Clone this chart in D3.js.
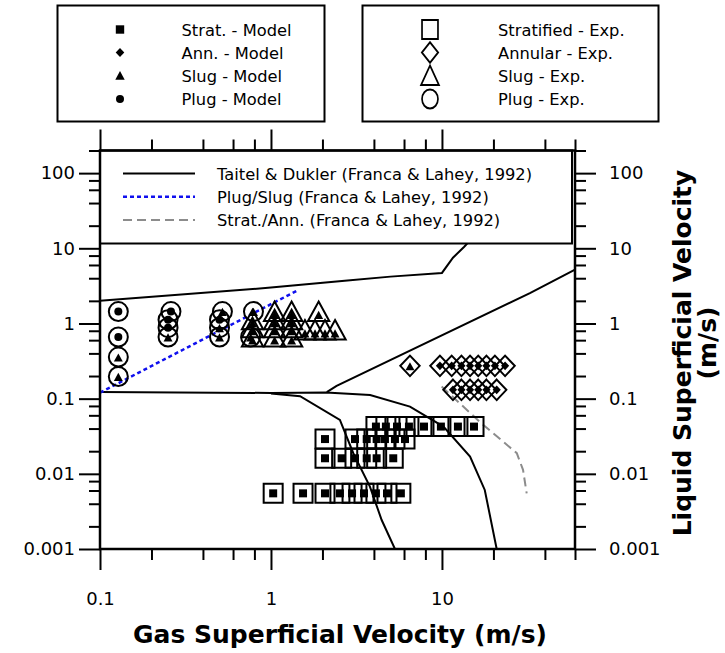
<!DOCTYPE html>
<html>
<head>
<meta charset="utf-8">
<script src="https://cdn.jsdelivr.net/npm/d3@7"></script>
<style>
  html, body { margin: 0; padding: 0; background: #fff; }
  svg { display: block; font-family: "DejaVu Sans", sans-serif; }
</style>
</head>
<body>
<svg id="chart" width="725" height="653"></svg>
<script>
// ---- Flow-pattern map data -------------------------------------------------
// Experimental points: [gas superficial velocity, liquid superficial velocity, model-predicted regime]
const plugExp = [
  [0.128, 1.44, "Plug"], [0.128, 0.66, "Plug"], [0.128, 0.357, "Slug"], [0.128, 0.197, "Slug"],
  [0.26, 1.44, "Plug"], [0.25, 1.12, "Plug"], [0.25, 0.88, "Plug"], [0.25, 0.66, "Slug"],
  [0.52, 1.44, "Slug"], [0.5, 1.12, "Plug"], [0.5, 0.88, "Slug"], [0.5, 0.66, "Slug"],
  [0.79, 1.44, "Slug"], [0.76, 0.66, "Slug"]
];
const slugExp = [
  [0.78, 1.12, "Slug"], [0.78, 0.88, "Slug"], [0.78, 0.66, "Slug"],
  [1.05, 1.44, "Slug"], [1.05, 1.12, "Slug"], [1.05, 0.88, "Slug"], [1.05, 0.66, "Slug"],
  [1.32, 1.44, "Slug"], [1.32, 1.12, "Slug"], [1.32, 0.88, "Slug"], [1.32, 0.66, "Slug"],
  [1.9, 1.44, "Slug"],
  [1.58, 0.82, "Slug"], [1.81, 0.82, "Slug"], [2.07, 0.82, "Slug"], [2.37, 0.82, "Slug"]
];
const annExp = [
  [6.5, 0.273, "Slug"],
  [9.73, 0.273, "Ann"], [11.4, 0.273, "Ann"], [13.0, 0.273, "Ann"], [14.6, 0.273, "Ann"],
  [16.3, 0.273, "Ann"], [18.2, 0.273, "Ann"], [20.4, 0.273, "Ann"], [23.4, 0.273, "Ann"],
  [11.6, 0.131, "Ann"], [13.0, 0.131, "Ann"], [14.6, 0.131, "Ann"],
  [16.3, 0.131, "Ann"], [18.2, 0.131, "Ann"], [20.9, 0.131, "Ann"]
];
const stratExp = [
  [4.11, 0.0425, "Strat"], [4.70, 0.0425, "Strat"], [5.46, 0.0425, "Strat"], [6.41, 0.0425, "Strat"],
  [7.85, 0.0425, "Strat"], [9.86, 0.0425, "Strat"], [12.4, 0.0425, "Strat"], [15.4, 0.0425, "Strat"],
  [2.07, 0.029, "Strat"], [3.10, 0.029, "Strat"], [3.63, 0.029, "Strat"], [4.15, 0.029, "Strat"],
  [4.64, 0.029, "Strat"], [5.31, 0.029, "Strat"], [6.08, 0.029, "Strat"],
  [2.07, 0.0161, "Strat"], [2.59, 0.0161, "Strat"], [3.10, 0.0161, "Strat"], [3.63, 0.0161, "Strat"],
  [4.15, 0.0161, "Strat"], [5.19, 0.0161, "Strat"],
  [1.03, 0.0055, "Strat"], [1.54, 0.0055, "Strat"], [2.07, 0.0055, "Strat"], [2.53, 0.0055, "Strat"],
  [2.98, 0.0055, "Strat"], [3.50, 0.0055, "Strat"], [4.11, 0.0055, "Strat"], [4.77, 0.0055, "Strat"],
  [5.75, 0.0055, "Strat"]
];

// Transition boundaries: [gas velocity, liquid velocity]
const tdUpper = [[0.1, 2.0], [1, 3.0], [2.7, 3.7], [5, 4.2], [10, 4.7], [11.6, 7.5], [13.5, 10.5], [16, 16], [20, 30]];
const tdStratRight = [[0.1, 0.123], [1, 0.119], [2.1, 0.121], [3.8, 0.112], [6.5, 0.0785], [10.2, 0.0425],
  [14.6, 0.017], [17.8, 0.0061], [20.9, 0.001]];
const tdStratLeft = [[1, 0.117], [1.48, 0.108], [2.53, 0.0523], [3.03, 0.0188], [3.79, 0.00676],
  [4.44, 0.00243], [5.31, 0.001]];
const tdAnnular = [[2.12, 0.122], [2.42, 0.148], [32.7, 2.54], [60, 5.2]];
const plugSlug = [[0.1, 0.12], [1.45, 2.8]];
const stratAnn = [[9.96, 0.145], [17, 0.047], [27.4, 0.0188], [29.8, 0.0113], [31.3, 0.0055]];

// Axis ticks
const xMajor = [0.1, 1, 10];
const xMajorLabels = ["0.1", "1", "10"];
const xMinor = [0.2, 0.4, 0.6, 0.8, 2, 4, 6, 8, 20, 40, 60];
const yMajor = [0.001, 0.01, 0.1, 1, 10, 100];
const yMajorLabels = ["0.001", "0.01", "0.1", "1", "10", "100"];
const yMinor = [0.002, 0.004, 0.006, 0.008, 0.02, 0.04, 0.06, 0.08, 0.2, 0.4, 0.6, 0.8,
  2, 4, 6, 8, 20, 40, 60, 80, 200];

// Legend entries
const modelLegend = [["Strat", "Strat. - Model"], ["Ann", "Ann. - Model"], ["Slug", "Slug - Model"], ["Plug", "Plug - Model"]];
const expLegend = [["Strat", "Stratified - Exp."], ["Ann", "Annular - Exp."], ["Slug", "Slug - Exp."], ["Plug", "Plug - Exp."]];
const lineLegend = [
  ["Taitel & Dukler (Franca & Lahey, 1992)", "#000", null, 2],
  ["Plug/Slug (Franca & Lahey, 1992)", "#1010ee", "4,3", 2.5],
  ["Strat./Ann. (Franca & Lahey, 1992)", "#8c8c8c", "9,5", 2]
];

// ---- Layout -----------------------------------------------------------------
const svg = d3.select("#chart");
const L = 100, R = 575, T = 150.5, B = 549;
const x = d3.scaleLog().domain([0.1, 60]).range([L, R]);
const y = d3.scaleLog().domain([0.001, 200]).range([B, T]);

// Marker outlines by regime
function shape(kind, r) {
  const p = d3.path();
  if (kind === "Strat") {
    p.rect(-r, -r, 2 * r, 2 * r);
  } else if (kind === "Ann") {
    p.moveTo(0, -r * 1.08); p.lineTo(r * 1.02, 0); p.lineTo(0, r * 1.08); p.lineTo(-r * 1.02, 0); p.closePath();
  } else if (kind === "Slug") {
    p.moveTo(0, -r * 1.05); p.lineTo(r * 1.12, r * 1.0); p.lineTo(-r * 1.12, r * 1.0); p.closePath();
  } else {
    p.moveTo(r, 0); p.arc(0, 0, r, 0, 2 * Math.PI);
  }
  return p.toString();
}

svg.append("defs").append("clipPath").attr("id", "plotClip")
  .append("rect").attr("x", L).attr("y", T).attr("width", R - L).attr("height", B - T);

// ---- Axes -------------------------------------------------------------------
function styleAxis(g) {
  g.select(".domain").remove();
  g.selectAll(".tick line").attr("stroke", "#000").attr("stroke-width", 2);
  g.selectAll("text").attr("font-family", "DejaVu Sans, sans-serif").attr("font-size", 18).attr("fill", "#000");
}
const fmtX = d => xMajorLabels[xMajor.indexOf(d)];
const fmtY = d => yMajorLabels[yMajor.indexOf(d)];

svg.append("g").attr("transform", `translate(0,${B})`)
  .call(d3.axisBottom(x).tickValues(xMajor).tickSize(21).tickPadding(22).tickFormat(fmtX)).call(styleAxis);
svg.append("g").attr("transform", `translate(0,${B})`)
  .call(d3.axisBottom(x).tickValues(xMinor).tickSize(11).tickFormat("")).call(styleAxis);
svg.append("g").attr("transform", `translate(0,${T})`)
  .call(d3.axisTop(x).tickValues(xMajor).tickSize(21).tickFormat("")).call(styleAxis);
svg.append("g").attr("transform", `translate(0,${T})`)
  .call(d3.axisTop(x).tickValues(xMinor).tickSize(11).tickFormat("")).call(styleAxis);

svg.append("g").attr("transform", `translate(${L},0)`)
  .call(d3.axisLeft(y).tickValues(yMajor).tickSize(21).tickPadding(4).tickFormat(fmtY)).call(styleAxis);
svg.append("g").attr("transform", `translate(${L},0)`)
  .call(d3.axisLeft(y).tickValues(yMinor).tickSize(11).tickFormat("")).call(styleAxis);
svg.append("g").attr("transform", `translate(${R},0)`)
  .call(d3.axisRight(y).tickValues(yMajor).tickSize(21).tickPadding(13).tickFormat(fmtY)).call(styleAxis);
svg.append("g").attr("transform", `translate(${R},0)`)
  .call(d3.axisRight(y).tickValues(yMinor).tickSize(11).tickFormat("")).call(styleAxis);

// ---- Boundaries ---------------------------------------------------------------
const line = d3.line().x(d => x(d[0])).y(d => y(d[1]));
const curves = svg.append("g").attr("clip-path", "url(#plotClip)").attr("fill", "none");
[tdUpper, tdStratRight, tdStratLeft, tdAnnular].forEach(c =>
  curves.append("path").attr("d", line(c)).attr("stroke", "#000").attr("stroke-width", 2));
curves.append("path").attr("d", line(plugSlug)).attr("stroke", lineLegend[1][1])
  .attr("stroke-width", 2.5).attr("stroke-dasharray", "4,3");
curves.append("path").attr("d", line(stratAnn)).attr("stroke", lineLegend[2][1])
  .attr("stroke-width", 2).attr("stroke-dasharray", "9,5");

// ---- Points -------------------------------------------------------------------
const pts = svg.append("g");
const groups = [["Plug", plugExp], ["Slug", slugExp], ["Ann", annExp], ["Strat", stratExp]];
groups.forEach(([kind, data]) => {
  pts.selectAll(null).data(data).enter().append("path")
    .attr("transform", d => `translate(${x(d[0])},${y(d[1])})`)
    .attr("d", shape(kind, 9.5))
    .attr("fill", "none").attr("stroke", "#000").attr("stroke-width", 2);
});
groups.forEach(([kind, data]) => {
  pts.selectAll(null).data(data).enter().append("path")
    .attr("transform", d => `translate(${x(d[0])},${y(d[1]) + (kind === "Slug" ? 3 : 0) + (d[2] === "Slug" ? 0.5 : 0)})`)
    .attr("d", d => shape(d[2], 4))
    .attr("fill", "#000").attr("stroke", "none");
});

// ---- Line legend (inside plot) ------------------------------------------------------
const lg = svg.append("g");
lg.append("rect").attr("x", L).attr("y", T).attr("width", 472).attr("height", 93)
  .attr("fill", "#fff").attr("stroke", "#000").attr("stroke-width", 2);
lineLegend.forEach((e, i) => {
  const yy = 173.5 + i * 23.3;
  lg.append("line").attr("x1", 123).attr("x2", 195).attr("y1", yy).attr("y2", yy)
    .attr("stroke", e[1]).attr("stroke-width", e[3]).attr("stroke-dasharray", e[2]);
  lg.append("text").attr("x", 217).attr("y", yy + 6).attr("font-size", 16.3).text(e[0]);
});

// ---- Marker legends (above plot) ------------------------------------------------------
const rowY = [29.5, 52.5, 75.5, 99];
const box1 = svg.append("g");
box1.append("rect").attr("x", 57.5).attr("y", 5.5).attr("width", 267).attr("height", 116)
  .attr("fill", "#fff").attr("stroke", "#000").attr("stroke-width", 2);
modelLegend.forEach((e, i) => {
  box1.append("path").attr("transform", `translate(120,${rowY[i]})`)
    .attr("d", shape(e[0], e[0] === "Plug" ? 4 : 4.2)).attr("fill", "#000");
  box1.append("text").attr("x", 181.5).attr("y", rowY[i] + 6).attr("font-size", 16.3).text(e[1]);
});
const box2 = svg.append("g");
box2.append("rect").attr("x", 362.5).attr("y", 5.5).attr("width", 296).attr("height", 116)
  .attr("fill", "#fff").attr("stroke", "#000").attr("stroke-width", 2);
expLegend.forEach((e, i) => {
  box2.append("path").attr("transform", `translate(430,${rowY[i]}) scale(0.84,1)`)
    .attr("d", shape(e[0], 9.5)).attr("fill", "none").attr("stroke", "#000").attr("stroke-width", 2);
  box2.append("text").attr("x", 498).attr("y", rowY[i] + 6).attr("font-size", 16.3).text(e[1]);
});

// ---- Frame and titles -----------------------------------------------------------
svg.append("rect").attr("x", L).attr("y", T).attr("width", R - L).attr("height", B - T)
  .attr("fill", "none").attr("stroke", "#000").attr("stroke-width", 2.5);

svg.append("text").attr("x", 340).attr("y", 643).attr("text-anchor", "middle")
  .attr("font-size", 25).attr("font-weight", "bold").text("Gas Superficial Velocity (m/s)");
svg.append("text").attr("transform", "translate(691,353) rotate(-90)").attr("text-anchor", "middle")
  .attr("font-size", 25).attr("font-weight", "bold").text("Liquid Superficial Velocity");
svg.append("text").attr("transform", "translate(716,343) rotate(-90)").attr("text-anchor", "middle")
  .attr("font-size", 25).attr("font-weight", "bold").text("(m/s)");
</script>
</body>
</html>
